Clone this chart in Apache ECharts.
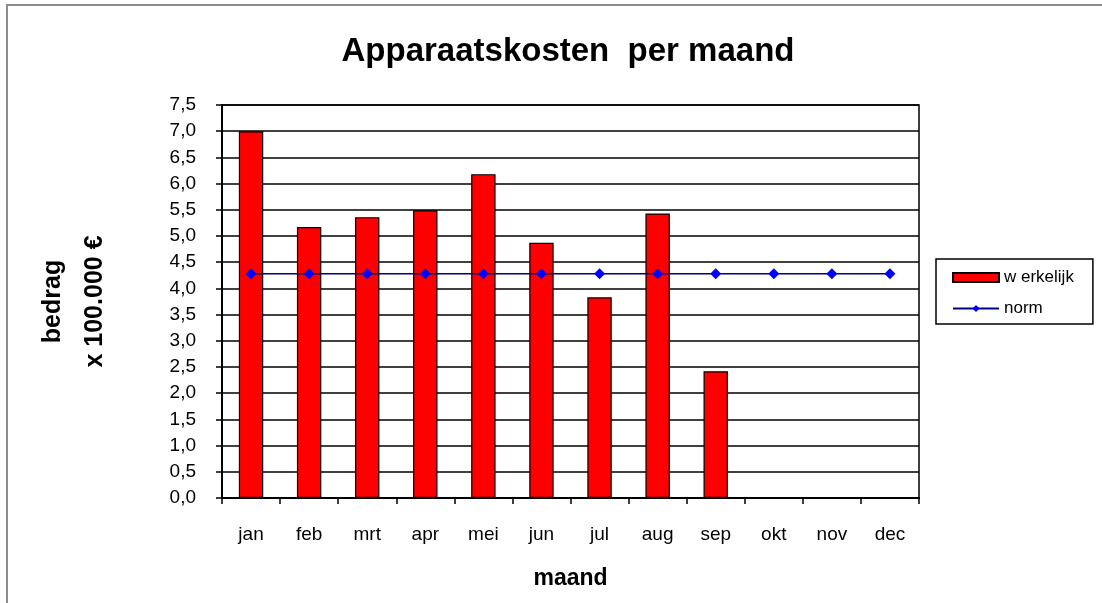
<!DOCTYPE html>
<html>
<head>
<meta charset="utf-8">
<script src="https://cdn.jsdelivr.net/npm/echarts@6/dist/echarts.min.js"></script>
<style>
html, body { margin: 0; padding: 0; background: #fff; }
#chart { width: 1102px; height: 603px; }
</style>
</head>
<body>
<div id="chart"></div>
<script>
var maanden = ["jan", "feb", "mrt", "apr", "mei", "jun", "jul", "aug", "sep", "okt", "nov", "dec"];
var werkelijk = [7.0, 5.17, 5.36, 5.49, 6.18, 4.87, 3.83, 5.43, 2.42, null, null, null];
var norm = [4.28, 4.28, 4.28, 4.28, 4.28, 4.28, 4.28, 4.28, 4.28, 4.28, 4.28, 4.28];

var font = "Liberation Sans, Arial, sans-serif";
var myChart = echarts.init(document.getElementById("chart"));

var option = {
    backgroundColor: "#fff",
    animation: false,
    textStyle: { fontFamily: font, color: "#000" },
    title: {
        text: "Apparaatskosten  per maand",
        left: 563,
        top: 30,
        textAlign: "center",
        textStyle: { fontFamily: font, fontSize: 33, fontWeight: "bold", color: "#000" }
    },
    graphic: [
        {
            type: "rect",
            shape: { x: 7, y: 5, width: 1200, height: 700 },
            style: { fill: null, stroke: "#8c8c8c", lineWidth: 2 },
            silent: true
        }
    ],
    legend: {
        orient: "vertical",
        left: 936,
        top: 259,
        padding: [10, 19, 7, 16],
        itemGap: 14,
        itemWidth: 46,
        itemHeight: 9,
        borderColor: "#000",
        borderWidth: 1.5,
        textStyle: { fontFamily: font, fontSize: 17, color: "#000" },
        data: [{ name: "w erkelijk", icon: "rect" }, "norm"]
    },
    grid: {
        left: 222,
        right: 183,
        top: 105,
        bottom: 105,
        show: true,
        borderColor: "#000",
        borderWidth: 1.5
    },
    xAxis: {
        type: "category",
        data: maanden,
        boundaryGap: true,
        name: "maand",
        nameLocation: "middle",
        nameGap: 69,
        nameTextStyle: { fontFamily: font, fontSize: 23, fontWeight: "bold", color: "#000" },
        axisLine: { lineStyle: { color: "#000", width: 2 } },
        axisTick: { show: true, length: 6, lineStyle: { color: "#000", width: 1.5 } },
        axisLabel: { fontFamily: font, fontSize: 19, color: "#000", margin: 27 },
        splitLine: { show: false }
    },
    yAxis: {
        type: "value",
        min: 0,
        max: 7.5,
        interval: 0.5,
        name: "bedrag\nx 100.000 €",
        nameLocation: "middle",
        nameRotate: 90,
        nameGap: 106,
        nameTextStyle: { fontFamily: font, fontSize: 25, fontWeight: "bold", color: "#000", lineHeight: 42 },
        axisLine: { show: true, lineStyle: { color: "#000", width: 2 } },
        axisTick: { show: true, length: 6, lineStyle: { color: "#000", width: 1.5 } },
        axisLabel: {
            fontFamily: font, fontSize: 19, color: "#000", margin: 26,
            formatter: function (v) { return v.toFixed(1).replace(".", ","); }
        },
        splitLine: { show: true, lineStyle: { color: "#000", width: 1.5 } }
    },
    series: [
        {
            name: "w erkelijk",
            type: "bar",
            data: werkelijk,
            barCategoryGap: "58%",
            itemStyle: { color: "#ff0000", borderColor: "#000", borderWidth: 1.2 }
        },
        {
            name: "norm",
            type: "line",
            data: norm,
            symbol: "diamond",
            symbolSize: 11,
            itemStyle: { color: "#0000ff" },
            lineStyle: { color: "#000080", width: 1.5 }
        }
    ]
};

myChart.setOption(option);
</script>
</body>
</html>
